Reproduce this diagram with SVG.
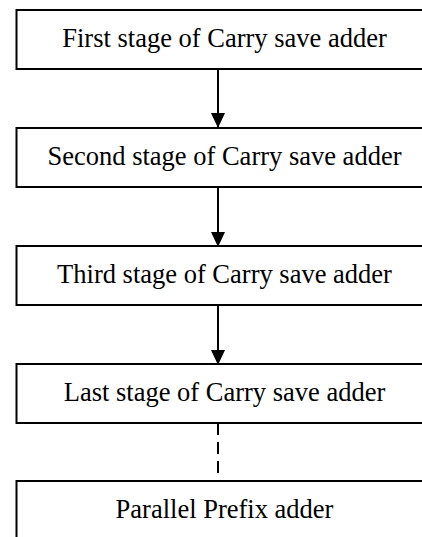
<svg xmlns="http://www.w3.org/2000/svg" width="422" height="537" viewBox="0 0 422 537">
<style>
.box{fill:#fff;stroke:#000;stroke-width:2}
.lbl{font-family:"Liberation Serif","Times New Roman",serif;font-size:26.5px;fill:#000;text-anchor:middle}
.conn{stroke:#000;stroke-width:2;fill:none}
.dash{stroke-dasharray:12,7}
</style>
<defs>
<marker id="ah" markerWidth="15" markerHeight="15" refX="14" refY="7" orient="auto" markerUnits="userSpaceOnUse" viewBox="0 0 15 14">
<path d="M0,0 L15,7 L0,14 Z" fill="#000"/>
</marker>
</defs>
<g id="connectors">
<line class="conn" x1="218" y1="69" x2="218" y2="127" marker-end="url(#ah)"/>
<line class="conn" x1="218" y1="187" x2="218" y2="246" marker-end="url(#ah)"/>
<line class="conn" x1="218" y1="305" x2="218" y2="364" marker-end="url(#ah)"/>
<line class="conn dash" x1="218" y1="423" x2="218" y2="481"/>
</g>
<g id="n1"><rect class="box" x="16.5" y="10" width="420" height="59"/><text class="lbl" x="224.5" y="47">First stage of Carry save adder</text></g>
<g id="n2"><rect class="box" x="16.5" y="128" width="420" height="59"/><text class="lbl" x="224.5" y="165">Second stage of Carry save adder</text></g>
<g id="n3"><rect class="box" x="16.5" y="246" width="420" height="59"/><text class="lbl" x="224.5" y="283">Third stage of Carry save adder</text></g>
<g id="n4"><rect class="box" x="16.5" y="364" width="420" height="59"/><text class="lbl" x="224.5" y="401">Last stage of Carry save adder</text></g>
<g id="n5"><rect class="box" x="16.5" y="481" width="420" height="70"/><text class="lbl" x="224.5" y="518">Parallel Prefix adder</text></g>
</svg>
